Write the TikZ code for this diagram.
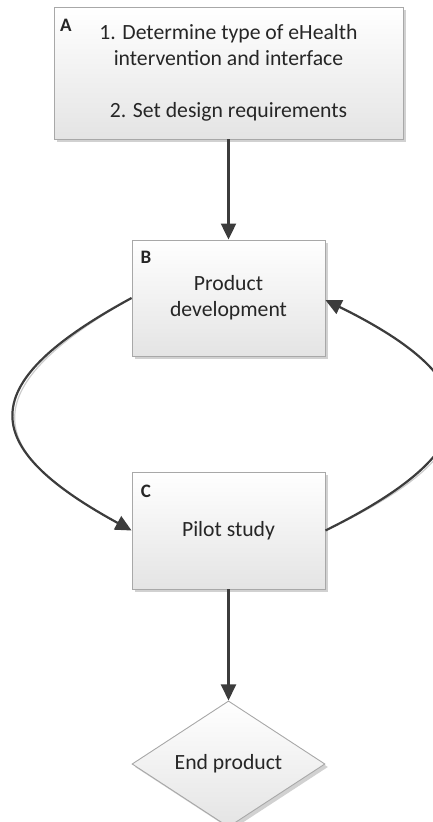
\documentclass[tikz,border=0pt]{standalone}
\usepackage{fontspec}
\setmainfont{Carlito}
\usetikzlibrary{shapes.geometric,shadows,arrows.meta}

\definecolor{boxline}{HTML}{A8A8A8}
\definecolor{boxbot}{HTML}{E4E4E4}
\definecolor{ink}{HTML}{262626}
\definecolor{conn}{HTML}{3C3C3C}
\definecolor{connshade}{HTML}{CCCCCC}

\tikzset{
  stage/.style={draw=boxline, line width=0.9pt, top color=white, bottom color=boxbot,
    drop shadow={shadow xshift=3pt, shadow yshift=-3pt, fill=black!18, opacity=1},
    align=center, text=ink, inner sep=0pt, font=\fontsize{21.7}{26}\selectfont},
  finish/.style={stage, shape=diamond},
  tag/.style={text=ink, inner sep=0pt, font=\fontsize{19}{22}\selectfont\bfseries},
  flow/.style={draw=conn, line width=2.2pt, -{Triangle[width=15pt,length=16pt]}},
  flowshade/.style={draw=connshade, line width=1.2pt, shorten >=15pt}
}

\begin{document}
\begin{tikzpicture}[x=1pt, y=1pt]
  \useasboundingbox (0,0) rectangle (433,-822);

  % process boxes
  \node[stage, minimum width=349pt, minimum height=132pt] (A) at (228.5,-73)
    {1. Determine type of eHealth\\intervention and interface\\[26pt]2. Set design requirements};
  \node[stage, minimum width=193pt, minimum height=116pt] (B) at (228.5,-298)
    {Product\\development};
  \node[stage, minimum width=193pt, minimum height=117pt] (C) at (228.5,-530.5)
    {Pilot study};
  \node[finish, minimum width=193pt, minimum height=115pt] (D) at (228.5,-764)
    {End product};

  % corner letters
  \node[tag] (tA) at (66,-25) {A};
  \node[tag] (tB) at (146,-257) {B};
  \node[tag] (tC) at (146,-491) {C};

  % anchor points on the box sides for the loop
  \coordinate (Bw) at (B.west);
  \coordinate (Cw) at (C.west);
  \coordinate (Be) at ([yshift=-2pt]B.east);
  \coordinate (Ce) at (C.east);

  % soft shadow lines under the loop
  \begin{scope}[shift={(3pt,-3pt)}]
    \draw[flowshade] (Bw) .. controls (-25,-383) and (-25,-445) .. (Cw);
    \draw[flowshade] (Ce) .. controls (492,-448) and (492,-382) .. (Be);
  \end{scope}

  % straight connectors
  \draw[flow] (A.south) -- (B.north);
  \draw[flow] (C.south) -- (D.north);

  % feedback loop between development and pilot
  \draw[flow] (Bw) .. controls (-25,-383) and (-25,-445) .. (Cw);
  \draw[flow] (Ce) .. controls (492,-448) and (492,-382) .. (Be);
\end{tikzpicture}
\end{document}
